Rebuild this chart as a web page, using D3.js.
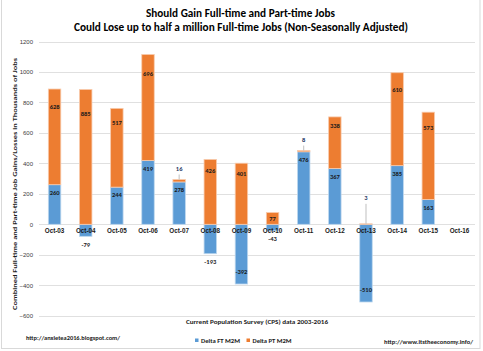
<!DOCTYPE html>
<html><head><meta charset="utf-8">
<script src="https://cdn.jsdelivr.net/npm/d3@7"></script>
<style>body{margin:0;background:#fff}svg{display:block;font-family:Carlito,"Liberation Sans",Arial,sans-serif}</style>
</head><body>
<svg id="c" width="483" height="351"></svg>
<script>
const categories = ["Oct-03","Oct-04","Oct-05","Oct-06","Oct-07","Oct-08","Oct-09","Oct-10","Oct-11","Oct-12","Oct-13","Oct-14","Oct-15","Oct-16"];
const ftValues = [260,-79,244,419,278,-193,-392,-43,476,367,-510,385,163,null];
const ptValues = [628,885,517,696,16,426,401,77,8,338,3,610,573,null];
const yTicks = [-600,-400,-200,0,200,400,600,800,1000,1200];
const seriesNames = ["Delta FT M2M","Delta PT M2M"];
const titleLines = ["Should Gain Full-time and Part-time Jobs","Could Lose up to half a million Full-time Jobs (Non-Seasonally Adjusted)"];

const blue = "#5B9BD5", orange = "#ED7D31", txt = "#1a1a1a";
const svg = d3.select("#c");
// border
svg.append("rect").attr("x",1.5).attr("y",-2).attr("width",478.5).attr("height",350.5)
  .attr("fill","none").attr("stroke","#d9d9d9").attr("stroke-width",1);

const x = d3.scaleBand().domain(categories).range([39,475]).paddingInner(0.6).paddingOuter(0.3);
const y = d3.scaleLinear().domain([-600,1200]).range([315.7,41.5]);

// gridlines
svg.append("g").selectAll("line").data(yTicks).join("line")
  .attr("x1",39).attr("x2",475).attr("y1",d=>Math.round(y(d))+0.5).attr("y2",d=>Math.round(y(d))+0.5)
  .attr("stroke","#e0e0e0").attr("stroke-width",1);

// y axis labels
const yAxis = d3.axisLeft(y).tickValues(yTicks).tickFormat(d3.format("d")).tickSize(0).tickPadding(0);
const ga = svg.append("g").attr("transform","translate(33,0)").call(yAxis);
ga.select(".domain").remove();
ga.selectAll("text").attr("font-size",6).attr("fill","#404040").attr("font-family",null);

// bars
const data = categories.map((c,i)=>({c, ft:ftValues[i], pt:ptValues[i]}));
const bw = x.bandwidth();
const g = svg.append("g");
data.forEach(d=>{
  if(d.ft==null) return;
  const ftTop = Math.max(0,d.ft), ftBot = Math.min(0,d.ft);
  g.append("rect").attr("x",x(d.c)).attr("width",bw)
    .attr("y",y(ftTop)).attr("height",y(ftBot)-y(ftTop))
    .attr("fill",blue).attr("stroke","#BDD7EE").attr("stroke-width",0.8);
  const base = d.ft>0 ? d.ft : 0;
  g.append("rect").attr("x",x(d.c)).attr("width",bw)
    .attr("y",y(base+d.pt)).attr("height",y(base)-y(base+d.pt))
    .attr("fill",orange).attr("stroke","#F8CBAD").attr("stroke-width",0.8);
});

// labels
const lab = svg.append("g").attr("font-size",6.5).attr("font-weight","bold").attr("text-anchor","middle").attr("fill",txt);
data.forEach(d=>{
  if(d.ft==null) return;
  const cx = x(d.c)+bw/2;
  let fy;
  if(d.ft>=0) fy = y(d.ft)+8;
  else if(d.ft>-300) fy = y(d.ft)+8;
  else fy = y(d.ft)-12;
  lab.append("text").attr("x",cx).attr("y",fy).attr("dy","0.35em").text(d.ft);
  const base = d.ft>0 ? d.ft : 0;
  if(d.pt<30){
    const top = y(base+d.pt);
    const ly = d.ft<0 ? top-24 : top-9;
    svg.append("line").attr("x1",cx).attr("x2",cx).attr("y1",ly+4).attr("y2",top)
      .attr("stroke","#bfbfbf").attr("stroke-width",1);
    lab.append("text").attr("x",cx).attr("y",ly).attr("fill","#1F3864").text(d.pt);
  } else if(d.pt<100){
    lab.append("text").attr("x",cx).attr("y",y(base+d.pt/2)).attr("dy","0.35em").text(d.pt);
  } else {
    lab.append("text").attr("x",cx).attr("y",y(base+d.pt*0.82)).attr("dy","0.35em").text(d.pt);
  }
});

// x axis category labels
const xAxis = d3.axisBottom(x).tickSize(0).tickPadding(0);
const gx = svg.append("g").attr("transform",`translate(0,${y(0)+6})`).call(xAxis);
gx.select(".domain").remove();
gx.selectAll("text").attr("font-size",6.3).attr("font-weight","bold").attr("fill",txt).attr("font-family",null).attr("dy","0.5em");

// titles
const t = svg.append("g").attr("text-anchor","middle").attr("font-weight","bold").attr("fill","#000");
t.append("text").attr("x",240.5).attr("y",17).attr("font-size",11).attr("textLength",189).attr("lengthAdjust","spacingAndGlyphs").text(titleLines[0]);
t.append("text").attr("x",241).attr("y",30.5).attr("font-size",11).attr("textLength",334).attr("lengthAdjust","spacingAndGlyphs").text(titleLines[1]);

// y axis title
svg.append("text").attr("transform","translate(16.5,184) rotate(-90)").attr("text-anchor","middle")
  .attr("font-size",6.5).attr("font-weight","bold").attr("fill",txt)
  .attr("textLength",252).attr("lengthAdjust","spacingAndGlyphs")
  .text("Combined Full-time and Part-time Job Gains/Losses in Thousands of Jobs");

// x axis title
svg.append("text").attr("x",257).attr("y",324).attr("text-anchor","middle")
  .attr("font-size",6.5).attr("font-weight","bold").attr("fill",txt)
  .attr("textLength",142).attr("lengthAdjust","spacingAndGlyphs")
  .text("Current Population Survey (CPS) data 2003-2016");

// footers
svg.append("text").attr("x",26).attr("y",339.5).attr("font-size",6.3).attr("font-weight","bold").attr("fill",txt)
  .attr("textLength",94).attr("lengthAdjust","spacingAndGlyphs").text("http://anxietea2016.blogspot.com/");
svg.append("text").attr("x",384).attr("y",344).attr("font-size",6.3).attr("font-weight","bold").attr("fill",txt)
  .attr("textLength",89).attr("lengthAdjust","spacingAndGlyphs").text("http://www.itstheeconomy.info/");

// legend
const lg = svg.append("g");
const legX = [195, 246.5];
seriesNames.forEach((n,i)=>{
  lg.append("rect").attr("x",legX[i]).attr("y",338.5).attr("width",3.5).attr("height",3.5).attr("fill",[blue,orange][i]);
  lg.append("text").attr("x",legX[i]+6).attr("y",342.7).attr("font-size",6.3).attr("font-weight","bold").attr("fill",txt)
    .attr("textLength",39).attr("lengthAdjust","spacingAndGlyphs").text(n);
});
</script>
</body></html>
